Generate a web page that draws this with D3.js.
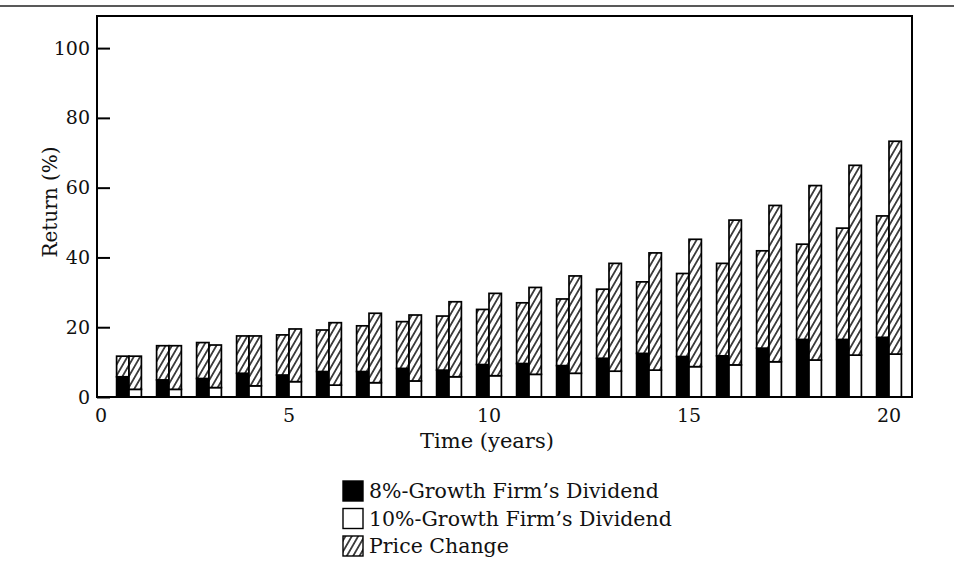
<!DOCTYPE html>
<html>
<head>
<meta charset="utf-8">
<script src="https://cdn.jsdelivr.net/npm/d3@7"></script>
<style>
  body { margin: 0; background: #fff; }
  svg { display: block; }
  text { font-family: "DejaVu Serif", "Liberation Serif", serif; fill: #111; }
</style>
</head>
<body>
<div id="chart"></div>
<script>
// values (return in %)
const years = [1, 2, 3, 4, 5, 6, 7, 8, 9, 10, 11, 12, 13, 14, 15, 16, 17, 18, 19, 20];
const dividend8 = [5.8, 4.9, 5.3, 6.8, 6.3, 7.3, 7.3, 8.2, 7.7, 9.3, 9.6, 9.0, 11.1, 12.5, 11.6, 11.8, 14.0, 16.5, 16.5, 17.1];
const priceChange8 = [5.9, 9.8, 10.3, 10.7, 11.5, 11.9, 13.1, 13.4, 15.5, 15.8, 17.4, 19.1, 19.8, 20.5, 23.8, 26.5, 27.9, 27.3, 31.9, 34.8];
const dividend10 = [2.2, 2.2, 2.7, 3.2, 4.4, 3.4, 4.1, 4.6, 5.8, 6.1, 6.5, 6.8, 7.4, 7.7, 8.7, 9.2, 10.1, 10.6, 12.0, 12.3];
const priceChange10 = [9.5, 12.5, 12.2, 14.3, 15.1, 17.9, 19.9, 18.9, 21.5, 23.6, 24.9, 27.9, 30.9, 33.6, 36.5, 41.5, 44.8, 50.0, 54.4, 61.0];

const yTicks = [0, 20, 40, 60, 80, 100];
const xTicks = [0, 5, 10, 15, 20];
const legendLabels = ["8%-Growth Firm\u2019s Dividend", "10%-Growth Firm\u2019s Dividend", "Price Change"];
const legendFills = ["#000", "#fff", "url(#hatch)"];

const width = 954;
const height = 575;
const plot = { left: 97, right: 912, top: 16, bottom: 397 };

const svg = d3.select("#chart")
  .append("svg")
  .attr("width", width)
  .attr("height", height);

// diagonal hatching for the price change part
const pattern = svg.append("defs")
  .append("pattern")
  .attr("id", "hatch")
  .attr("patternUnits", "userSpaceOnUse")
  .attr("width", 5.5)
  .attr("height", 10)
  .attr("patternTransform", "rotate(30)");
pattern.append("rect").attr("width", 5.5).attr("height", 10).attr("fill", "#fff");
pattern.append("line")
  .attr("x1", 2.75).attr("y1", 0)
  .attr("x2", 2.75).attr("y2", 10)
  .attr("stroke", "#000")
  .attr("stroke-width", 1.4);

// rule across the top of the page
svg.append("line")
  .attr("x1", 0).attr("x2", width)
  .attr("y1", 6).attr("y2", 6)
  .attr("stroke", "#222")
  .attr("stroke-width", 1.3);

const x = d3.scaleLinear().domain([0.2, 20.575]).range([plot.left, plot.right]);
const y = d3.scaleLinear().domain([0, 109.2]).range([plot.bottom, plot.top]);
const barW = (x(1) - x(0)) * 0.31;

const segments = [];
years.forEach((yr, i) => {
  const cx = x(yr);
  segments.push({ x0: cx - barW, v0: 0, v1: dividend8[i], fill: "#000" });
  segments.push({ x0: cx - barW, v0: dividend8[i], v1: dividend8[i] + priceChange8[i], fill: "url(#hatch)" });
  segments.push({ x0: cx, v0: 0, v1: dividend10[i], fill: "#fff" });
  segments.push({ x0: cx, v0: dividend10[i], v1: dividend10[i] + priceChange10[i], fill: "url(#hatch)" });
});

svg.append("g")
  .selectAll("rect")
  .data(segments)
  .join("rect")
  .attr("x", (d) => d.x0)
  .attr("y", (d) => y(d.v1))
  .attr("width", barW)
  .attr("height", (d) => y(d.v0) - y(d.v1))
  .attr("fill", (d) => d.fill)
  .attr("stroke", "#000")
  .attr("stroke-width", 1.7);

// frame
svg.append("rect")
  .attr("x", plot.left)
  .attr("y", plot.top)
  .attr("width", plot.right - plot.left)
  .attr("height", plot.bottom - plot.top)
  .attr("fill", "none")
  .attr("stroke", "#000")
  .attr("stroke-width", 2);

const yAxis = svg.append("g")
  .attr("transform", `translate(${plot.left},0)`)
  .call(d3.axisLeft(y).tickValues(yTicks).tickSize(-13).tickSizeOuter(0).tickPadding(7));
yAxis.select(".domain").remove();
yAxis.selectAll("line").attr("stroke", "#000").attr("stroke-width", 2);
yAxis.selectAll("text").style("font-size", "19px");

const xAxis = svg.append("g")
  .attr("transform", `translate(0,${plot.bottom})`)
  .call(d3.axisBottom(x).tickValues(xTicks).tickSize(0).tickPadding(12));
xAxis.select(".domain").remove();
// keep the labels inside the frame (the 0 sits at the corner)
xAxis.selectAll(".tick")
  .attr("transform", (d) => `translate(${Math.max(x(d), plot.left + 4)},0)`);
xAxis.selectAll("text").style("font-size", "19px");

svg.append("text")
  .attr("x", 487)
  .attr("y", 448)
  .attr("text-anchor", "middle")
  .style("font-size", "21px")
  .text("Time (years)");

svg.append("text")
  .attr("transform", "translate(50,202) rotate(-90)")
  .attr("dy", "0.35em")
  .attr("text-anchor", "middle")
  .style("font-size", "20px")
  .text("Return (%)");

// legend
const legend = svg.append("g")
  .selectAll("g")
  .data(legendLabels)
  .join("g")
  .attr("transform", (d, i) => `translate(343,${491 + i * 27.5})`);

legend.append("rect")
  .attr("x", 0)
  .attr("y", -10)
  .attr("width", 20)
  .attr("height", 20)
  .attr("fill", (d, i) => legendFills[i])
  .attr("stroke", "#000")
  .attr("stroke-width", 1.4);

legend.append("text")
  .attr("x", 26)
  .attr("dy", "0.35em")
  .style("font-size", "20.5px")
  .text((d) => d);
</script>
</body>
</html>
